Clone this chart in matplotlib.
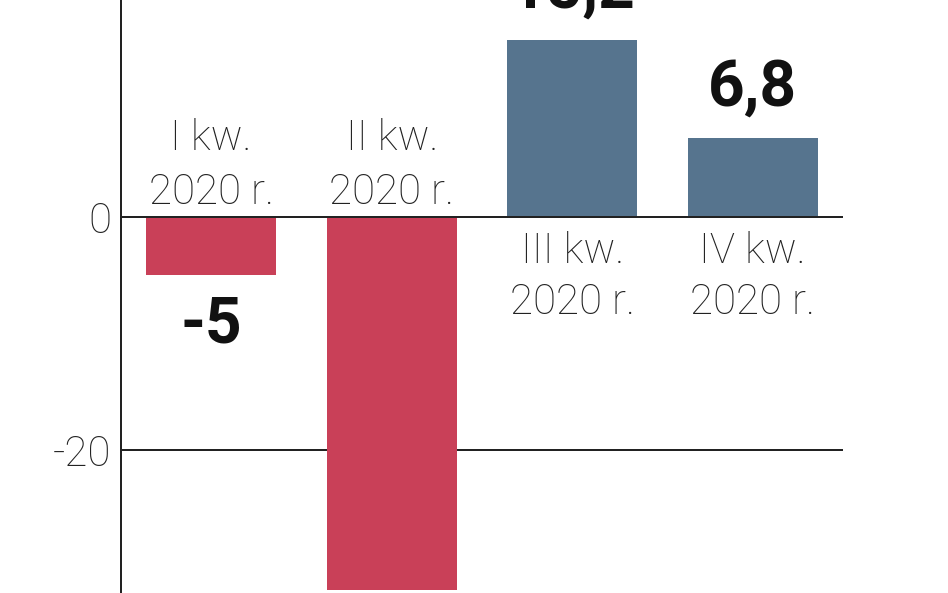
import matplotlib
matplotlib.use("Agg")
import matplotlib.pyplot as plt
from matplotlib import font_manager

categories = ["I kw.\n2020 r.", "II kw.\n2020 r.", "III kw.\n2020 r.", "IV kw.\n2020 r."]
values = [-5.0, -32.0, 15.2, 6.8]
value_labels = ["-5", "-32", "15,2", "6,8"]
yticks = [-20, 0, 20]
ytick_labels = ["-20", "0", "20"]

RED = "#C94058"
BLUE = "#56748E"

avail = {f.name for f in font_manager.fontManager.ttflist}
fam = "Liberation Sans Narrow" if "Liberation Sans Narrow" in avail else "Roboto"
plt.rcParams["font.family"] = [fam, "DejaVu Sans"]

DPI = 72
fig = plt.figure(figsize=(948 / DPI, 593 / DPI), dpi=DPI)
ax = fig.add_axes([121 / 948, 0, (843 - 121) / 948, 1])

x = list(range(len(values)))
colors = [RED if v < 0 else BLUE for v in values]
ax.bar(x, values, width=0.72, color=colors, zorder=2)

for yv in yticks:
    ax.axhline(yv, color="#222222", lw=2, zorder=1 if yv != 0 else 3)

for s in ["top", "right", "bottom"]:
    ax.spines[s].set_visible(False)
ax.spines["left"].set_linewidth(2)
ax.spines["left"].set_color("#222222")
ax.set_xticks([])
ax.set_yticks(yticks[:2])
ax.set_yticklabels(ytick_labels[:2], fontsize=42, color="#222222", fontweight="light")
ax.tick_params(axis="y", length=0, pad=10)

ax.set_xlim(-0.5, 3.5)
ax.set_ylim(-32.27, 18.63)

# top tick label (lies above the visible area, as in the cropped reference)
ax.annotate(ytick_labels[2], (0, yticks[2]), xycoords=("axes fraction", "data"),
            xytext=(-10, 0), textcoords="offset points", ha="right", va="center",
            fontsize=42, color="#222222", fontweight="light", annotation_clip=False)

for xi, v, lab, cat in zip(x, values, value_labels, categories):
    off = 50 if v > 0 else -50
    ax.annotate(lab, (xi, v), xytext=(0, off), textcoords="offset points",
                ha="center", va="center", fontsize=64, fontweight="bold",
                color="#111111", annotation_clip=False)
    if v < 0:
        ax.annotate(cat, (xi, 0), xytext=(0, 4), textcoords="offset points",
                    ha="center", va="bottom", fontsize=42, color="#222222",
                    fontweight="light", linespacing=1.4)
    else:
        ax.annotate(cat, (xi, 0), xytext=(0, -14), textcoords="offset points",
                    ha="center", va="top", fontsize=42, color="#222222",
                    fontweight="light", linespacing=1.32)

fig.savefig("out.png", dpi=DPI)
